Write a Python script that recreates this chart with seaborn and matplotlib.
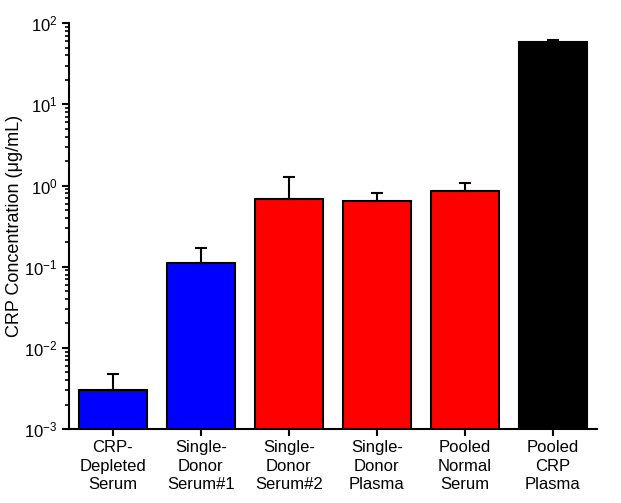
import numpy as np
import pandas as pd
import matplotlib
matplotlib.use("Agg")
import matplotlib.pyplot as plt
import seaborn as sns

# donnees
samples = ["CRP-\nDepleted\nSerum", "Single-\nDonor\nSerum#1", "Single-\nDonor\nSerum#2",
           "Single-\nDonor\nPlasma", "Pooled\nNormal\nSerum", "Pooled\nCRP\nPlasma"]
crp = [0.0030, 0.112, 0.68, 0.65, 0.86, 58.0]
crp_err_top = [0.0047, 0.172, 1.26, 0.82, 1.08, 62.0]
bar_colors = ["#0000ff", "#0000ff", "#ff0000", "#ff0000", "#ff0000", "#000000"]

df = pd.DataFrame({"sample": samples, "crp": crp})

sns.set_style("ticks")
plt.rcParams["font.family"] = ["Liberation Sans", "DejaVu Sans"]
plt.rcParams["text.color"] = "black"
plt.rcParams["axes.labelcolor"] = "black"
plt.rcParams["xtick.color"] = "black"
plt.rcParams["ytick.color"] = "black"

fig = plt.figure(figsize=(6.21, 5.03), dpi=100)
ax = fig.add_axes([0.111, 0.147, 0.85, 0.807])

sns.barplot(data=df, x="sample", y="crp", hue="sample", palette=bar_colors,
            legend=False, errorbar=None, width=0.77, edgecolor="black",
            linewidth=1.5, saturation=1, ax=ax)

pos = np.arange(len(samples))
up = np.array(crp_err_top) - np.array(crp)
ax.errorbar(pos, crp, yerr=[np.zeros(len(crp)), up], fmt="none",
            ecolor="black", elinewidth=1.5, capsize=4, capthick=1.5, zorder=3)

ax.set_yscale("log")
ax.set_ylim(1e-3, 1e2)
ax.set_xlim(-0.5, 5.5)
ax.set_xlabel("")
ax.set_ylabel("CRP Concentration (\u03bcg/mL)", fontsize=13, labelpad=1)
ax.tick_params(axis="both", labelsize=12, width=1.5, length=5, direction="out", pad=3)
ax.tick_params(axis="y", which="minor", width=1.2, length=3)
for lab in ax.get_xticklabels():
    lab.set_linespacing(1.3)
sns.despine(ax=ax)
for sp in ["left", "bottom"]:
    ax.spines[sp].set_linewidth(1.5)
    ax.spines[sp].set_color("black")

fig.savefig("out.png", dpi=100)
